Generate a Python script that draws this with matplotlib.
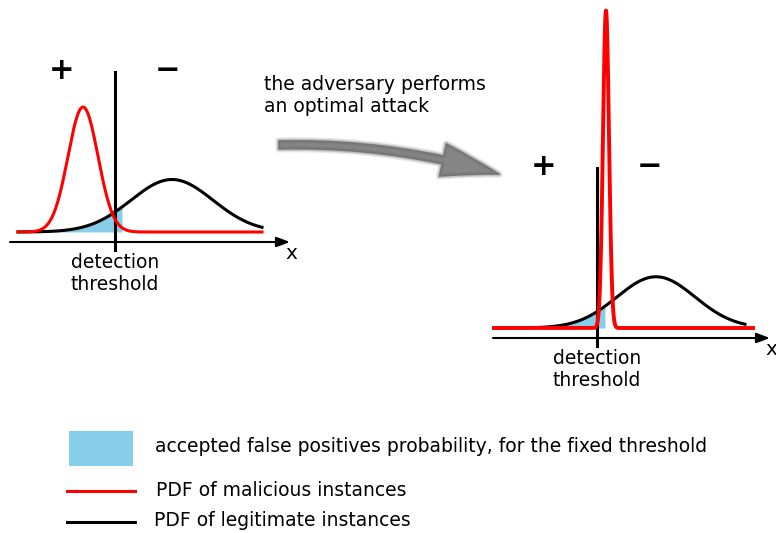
import numpy as np
import matplotlib
matplotlib.use("Agg")
import matplotlib.pyplot as plt
from matplotlib.patches import Rectangle, FancyArrowPatch

# Distribution parameters (x in threshold-relative units, peak heights in arbitrary units)
# before the attack
LEFT_RED = dict(mu=-1.6, sigma=0.75, peak=1.0)
LEFT_BLACK = dict(mu=2.85, sigma=2.05, peak=0.42)
LEFT_RANGE = (-4.85, 7.35)
LEFT_FILL_END = 0.35

# after the optimal attack
RIGHT_RED = dict(mu=0.45, sigma=0.15, peak=2.54)
RIGHT_BLACK = dict(mu=2.95, sigma=1.95, peak=0.41)
RIGHT_RED_RANGE = (-5.15, 7.8)
RIGHT_BLACK_RANGE = (-5.15, 7.4)
RIGHT_FILL_END = 0.4

ARROW_TEXT = "the adversary performs\nan optimal attack"
THRESH_TEXT = "detection\nthreshold"
LEGEND_LABELS = [
    "accepted false positives probability, for the fixed threshold",
    "PDF of malicious instances",
    "PDF of legitimate instances",
]

RED = "#ff0000"
BLUE = "#87ceeb"
FS = 13.5
W, H = 776, 533


def gauss(x, mu, sigma, peak):
    return peak * np.exp(-0.5 * ((x - mu) / sigma) ** 2)


def px_axes(fig, x0, y0, x1, y1):
    # axes placed by pixel box (top-left origin)
    ax = fig.add_axes([x0 / W, 1 - y1 / H, (x1 - x0) / W, (y1 - y0) / H])
    ax.set_axis_off()
    return ax


def draw_panel(ax, red, black, red_rng, black_rng, fill_end, ax_rng, xlim, ylim, lw_red):
    ax.set_xlim(*xlim)
    ax.set_ylim(*ylim)
    xb = np.linspace(black_rng[0], black_rng[1], 600)
    xr = np.linspace(red_rng[0], red_rng[1], 3000)
    xf = np.linspace(black_rng[0], fill_end, 300)
    ax.fill_between(xf, 0, gauss(xf, **black), color=BLUE, lw=0, zorder=1)
    ax.annotate("", xy=(ax_rng[1], -0.08), xytext=(ax_rng[0], -0.08),
                arrowprops=dict(arrowstyle="-|>,head_length=0.8,head_width=0.3",
                                color="black", lw=1.5, shrinkA=0, shrinkB=0))
    ax.plot([0, 0], [-0.14, 1.28], color="black", lw=2.2, zorder=2)
    ax.plot(xb, gauss(xb, **black), color="black", lw=2.2, zorder=3)
    ax.plot(xr, gauss(xr, **red), color=RED, lw=lw_red, zorder=4)
    ax.text(-2.65, 1.295, "+", fontsize=22, fontweight="bold", ha="center", va="center")
    ax.text(2.6, 1.295, "\u2212", fontsize=22, fontweight="bold", ha="center", va="center")
    ax.text(0, -0.17, THRESH_TEXT, fontsize=FS, ha="center", va="top",
            multialignment="center", linespacing=1.15)
    ax.text(ax_rng[1] + 0.05, -0.17, "x", fontsize=FS + 1, ha="center", va="center")


fig = plt.figure(figsize=(W / 100, H / 100), dpi=100)

base = px_axes(fig, 0, 0, W, H)
base.set_xlim(0, W)
base.set_ylim(H, 0)

# left panel: pixels 0..300 x 50..300, threshold at px 115, baseline at px 232
left = px_axes(fig, 0, 50, 300, 300)
draw_panel(left, LEFT_RED, LEFT_BLACK, LEFT_RANGE, LEFT_RANGE, LEFT_FILL_END,
           (-5.25, 8.75), (-5.75, 9.25), (-0.544, 1.456), 2.2)

# right panel: pixels 480..776 x 0..400, threshold at px 597, baseline at px 328
right = px_axes(fig, 480, 0, 776, 400)
draw_panel(right, RIGHT_RED, RIGHT_BLACK, RIGHT_RED_RANGE, RIGHT_BLACK_RANGE,
           RIGHT_FILL_END, (-5.2, 8.65), (-5.85, 8.95), (-0.576, 2.624), 2.8)

# curved grey arrow with a soft edge
for lw, alpha in [(5, 0.15), (3, 0.3), (1, 0.7)]:
    arr = FancyArrowPatch((276, 145), (502, 175),
                          connectionstyle="arc3,rad=-0.08",
                          arrowstyle="simple,head_length=42,head_width=24,tail_width=6",
                          mutation_scale=1, color="#6c6c6c", lw=lw, alpha=alpha)
    base.add_patch(arr)
base.text(264, 96, ARROW_TEXT, fontsize=FS, ha="left", va="center", linespacing=1.2)

# legend
base.add_patch(Rectangle((69, 431), 64, 35, color=BLUE, lw=0))
base.plot([67, 135], [491, 491], color=RED, lw=2.2)
base.plot([67, 135], [522, 522], color="black", lw=2.2)
base.text(155, 446, LEGEND_LABELS[0], fontsize=FS, va="center")
base.text(156, 490, LEGEND_LABELS[1], fontsize=FS, va="center")
base.text(154, 521, LEGEND_LABELS[2], fontsize=FS, va="center")

fig.savefig("out.png", dpi=100)
